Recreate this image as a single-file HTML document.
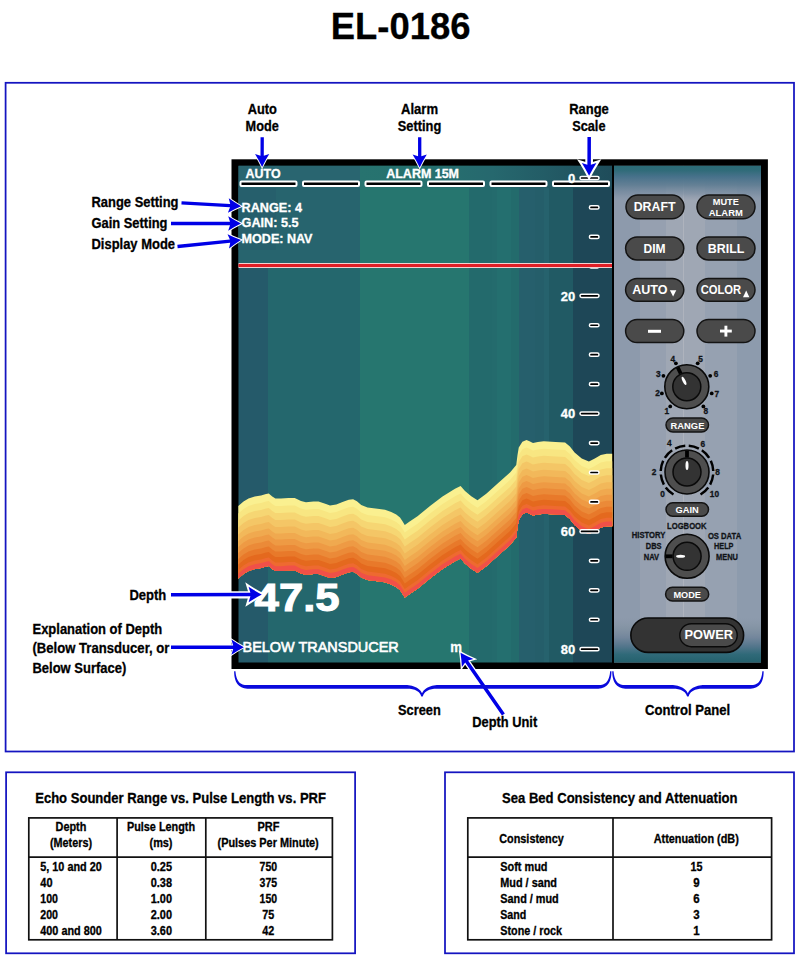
<!DOCTYPE html>
<html><head><meta charset="utf-8"><style>
html,body{margin:0;padding:0;background:#fff;overflow:hidden;width:800px;height:959px;}
svg{display:block;}
text{font-family:"Liberation Sans", sans-serif;}
</style></head><body>
<svg width="800" height="959" viewBox="0 0 800 959">
<defs><linearGradient id="scr" gradientUnits="userSpaceOnUse" x1="238.5" y1="0" x2="612" y2="0"><stop offset="0.00000" stop-color="#255A6A"/><stop offset="0.07898" stop-color="#255A6A"/><stop offset="0.07898" stop-color="#24676D"/><stop offset="0.32530" stop-color="#24676D"/><stop offset="0.32530" stop-color="#26766F"/><stop offset="0.61633" stop-color="#26766F"/><stop offset="0.61633" stop-color="#236A6C"/><stop offset="0.68005" stop-color="#236A6C"/><stop offset="0.68005" stop-color="#246B6D"/><stop offset="0.69130" stop-color="#246B6D"/><stop offset="0.69130" stop-color="#246F6F"/><stop offset="0.73012" stop-color="#246F6F"/><stop offset="0.73012" stop-color="#236B6C"/><stop offset="0.74967" stop-color="#236B6C"/><stop offset="0.74967" stop-color="#265F6C"/><stop offset="0.79384" stop-color="#265F6C"/><stop offset="0.79384" stop-color="#255E6A"/><stop offset="0.81901" stop-color="#255E6A"/><stop offset="0.81901" stop-color="#26626D"/><stop offset="0.82999" stop-color="#26626D"/><stop offset="0.82999" stop-color="#215A64"/><stop offset="0.89665" stop-color="#215A64"/><stop offset="0.89665" stop-color="#1E4757"/><stop offset="1.00000" stop-color="#1E4757"/></linearGradient><linearGradient id="hdr" gradientUnits="userSpaceOnUse" x1="238.5" y1="0" x2="612" y2="0">
<stop offset="0" stop-color="#296570"/><stop offset="0.325" stop-color="#296570"/><stop offset="0.326" stop-color="#27736F"/>
<stop offset="0.5" stop-color="#26716F"/><stop offset="0.68" stop-color="#26686E"/><stop offset="0.82" stop-color="#235C66"/><stop offset="1" stop-color="#1F4C5A"/></linearGradient><linearGradient id="pnl" gradientUnits="userSpaceOnUse" x1="614" y1="0" x2="761.5" y2="0"><stop offset="0.00000" stop-color="#8D9AAC"/><stop offset="0.17627" stop-color="#8D9AAC"/><stop offset="0.17627" stop-color="#96A0B0"/><stop offset="0.35254" stop-color="#96A0B0"/><stop offset="0.35254" stop-color="#9FA7B4"/><stop offset="0.46441" stop-color="#9FA7B4"/><stop offset="0.46441" stop-color="#AEB3BD"/><stop offset="0.47458" stop-color="#AEB3BD"/><stop offset="0.47458" stop-color="#9FA7B4"/><stop offset="0.61695" stop-color="#9FA7B4"/><stop offset="0.61695" stop-color="#96A1B1"/><stop offset="0.83390" stop-color="#96A1B1"/><stop offset="0.83390" stop-color="#8D9BAD"/><stop offset="1.00000" stop-color="#8D9BAD"/></linearGradient><linearGradient id="pnlTop" gradientUnits="userSpaceOnUse" x1="0" y1="165.8" x2="0" y2="201">
<stop offset="0" stop-color="#2B6B76" stop-opacity="1"/><stop offset="0.12" stop-color="#2F6B78" stop-opacity="1"/><stop offset="0.3" stop-color="#46718A" stop-opacity="1"/><stop offset="0.55" stop-color="#5E7C92" stop-opacity="0.9"/><stop offset="0.8" stop-color="#768A9F" stop-opacity="0.6"/><stop offset="1" stop-color="#8A98AB" stop-opacity="0"/></linearGradient>
<linearGradient id="pnlBot" gradientUnits="userSpaceOnUse" x1="0" y1="617" x2="0" y2="662.5">
<stop offset="0" stop-color="#8796A6" stop-opacity="0"/><stop offset="0.25" stop-color="#7F90A0" stop-opacity="0.7"/><stop offset="0.45" stop-color="#70849A" stop-opacity="0.9"/><stop offset="0.65" stop-color="#52758B" stop-opacity="1"/><stop offset="0.82" stop-color="#306A79" stop-opacity="1"/><stop offset="1" stop-color="#24606C" stop-opacity="1"/></linearGradient></defs>
<rect x="0" y="0" width="800" height="959" fill="#fff"/>
<text x="330.80" y="39" font-size="37.6" font-weight="bold" fill="#000" text-anchor="start" textLength="139.60" lengthAdjust="spacingAndGlyphs"  stroke="#000" stroke-width="0.3">EL-0186</text>
<rect x="5.6" y="82.8" width="788.4" height="668.7" fill="none" stroke="#1414C0" stroke-width="1.75"/>
<rect x="6.1" y="772.3" width="349" height="181" fill="none" stroke="#1414C0" stroke-width="1.75"/>
<rect x="445" y="772.3" width="349" height="181" fill="none" stroke="#1414C0" stroke-width="1.75"/>
<rect x="231.5" y="159.3" width="536.4" height="509.7" fill="#000"/>
<rect x="238.5" y="165.8" width="373.5" height="496.7" fill="url(#scr)"/>
<rect x="238.5" y="165.8" width="373.5" height="22.2" fill="url(#hdr)"/>
<rect x="238.5" y="188" width="121.5" height="75" fill="#27646E"/>
<rect x="238.5" y="188" width="37.5" height="62" fill="#265F6C"/>
<rect x="614" y="165.8" width="147" height="496.7" fill="url(#pnl)"/>
<rect x="614" y="165.8" width="147" height="35.2" fill="url(#pnlTop)"/>
<rect x="614" y="617" width="147" height="45.5" fill="url(#pnlBot)"/>
<polygon points="238.30,506.00 243.50,501.60 248.50,498.50 254.75,496.60 261.00,495.40 266.00,494.10 268.75,493.40 272.25,496.60 275.40,498.50 281.00,498.50 288.50,497.90 294.75,497.90 301.00,501.00 306.00,502.25 313.50,501.60 318.50,501.60 326.00,504.10 330.00,505.40 336.25,504.40 342.50,501.90 348.75,499.75 353.10,499.30 356.90,501.25 361.25,505.00 367.50,507.50 377.50,508.75 385.00,509.75 391.25,511.90 396.25,514.40 400.00,517.50 402.50,521.25 404.75,525.00 410.00,521.25 417.50,516.25 430.00,506.00 442.50,496.50 455.00,488.75 460.60,486.10 465.00,491.00 471.25,496.25 477.50,500.20 486.25,493.75 498.75,482.50 510.00,472.50 516.25,465.00 517.50,455.00 518.75,447.50 522.40,441.80 526.50,440.10 529.50,441.30 533.00,443.10 537.80,441.90 543.75,441.30 555.60,441.90 565.10,442.50 569.90,446.60 574.60,452.60 581.75,458.50 588.90,461.50 594.80,458.50 600.75,455.00 606.70,453.75 612.20,453.75 612.20,526.25 606.70,526.25 600.75,527.50 594.80,531.00 588.90,534.00 581.75,531.00 574.60,525.10 569.90,519.10 565.10,515.00 555.60,514.40 543.75,513.80 537.80,514.40 533.00,515.60 529.50,513.80 526.50,512.60 522.40,514.30 518.75,520.00 517.50,527.50 516.25,537.50 510.00,545.00 498.75,555.00 486.25,566.25 477.50,572.70 471.25,568.75 465.00,563.50 460.60,558.60 455.00,561.25 442.50,569.00 430.00,578.50 417.50,588.75 410.00,593.75 404.75,597.50 402.50,593.75 400.00,590.00 396.25,586.90 391.25,584.40 385.00,582.25 377.50,581.25 367.50,580.00 361.25,577.50 356.90,573.75 353.10,571.80 348.75,572.25 342.50,574.40 336.25,576.90 330.00,577.90 326.00,576.60 318.50,574.10 313.50,574.10 306.00,574.75 301.00,573.50 294.75,570.40 288.50,570.40 281.00,571.00 275.40,571.00 272.25,569.10 268.75,565.90 266.00,566.60 261.00,567.90 254.75,569.10 248.50,571.00 243.50,574.10 238.30,578.50" fill="#FAF090"/>
<polygon points="238.30,513.50 243.50,509.10 248.50,506.00 254.75,504.10 261.00,502.90 266.00,501.60 268.75,500.90 272.25,504.10 275.40,506.00 281.00,506.00 288.50,505.40 294.75,505.40 301.00,508.50 306.00,509.75 313.50,509.10 318.50,509.10 326.00,511.60 330.00,512.90 336.25,511.90 342.50,509.40 348.75,507.25 353.10,506.80 356.90,508.75 361.25,512.50 367.50,515.00 377.50,516.25 385.00,517.25 391.25,519.40 396.25,521.90 400.00,525.00 402.50,528.75 404.75,532.50 410.00,528.75 417.50,523.75 430.00,513.50 442.50,504.00 455.00,496.25 460.60,493.60 465.00,498.50 471.25,503.75 477.50,507.70 486.25,501.25 498.75,490.00 510.00,480.00 516.25,472.50 517.50,462.50 518.75,455.00 522.40,449.30 526.50,447.60 529.50,448.80 533.00,450.60 537.80,449.40 543.75,448.80 555.60,449.40 565.10,450.00 569.90,454.10 574.60,460.10 581.75,466.00 588.90,469.00 594.80,466.00 600.75,462.50 606.70,461.25 612.20,461.25 612.20,526.25 606.70,526.25 600.75,527.50 594.80,531.00 588.90,534.00 581.75,531.00 574.60,525.10 569.90,519.10 565.10,515.00 555.60,514.40 543.75,513.80 537.80,514.40 533.00,515.60 529.50,513.80 526.50,512.60 522.40,514.30 518.75,520.00 517.50,527.50 516.25,537.50 510.00,545.00 498.75,555.00 486.25,566.25 477.50,572.70 471.25,568.75 465.00,563.50 460.60,558.60 455.00,561.25 442.50,569.00 430.00,578.50 417.50,588.75 410.00,593.75 404.75,597.50 402.50,593.75 400.00,590.00 396.25,586.90 391.25,584.40 385.00,582.25 377.50,581.25 367.50,580.00 361.25,577.50 356.90,573.75 353.10,571.80 348.75,572.25 342.50,574.40 336.25,576.90 330.00,577.90 326.00,576.60 318.50,574.10 313.50,574.10 306.00,574.75 301.00,573.50 294.75,570.40 288.50,570.40 281.00,571.00 275.40,571.00 272.25,569.10 268.75,565.90 266.00,566.60 261.00,567.90 254.75,569.10 248.50,571.00 243.50,574.10 238.30,578.50" fill="#F8E682"/>
<polygon points="238.30,520.50 243.50,516.10 248.50,513.00 254.75,511.10 261.00,509.90 266.00,508.60 268.75,507.90 272.25,511.10 275.40,513.00 281.00,513.00 288.50,512.40 294.75,512.40 301.00,515.50 306.00,516.75 313.50,516.10 318.50,516.10 326.00,518.60 330.00,519.90 336.25,518.90 342.50,516.40 348.75,514.25 353.10,513.80 356.90,515.75 361.25,519.50 367.50,522.00 377.50,523.25 385.00,524.25 391.25,526.40 396.25,528.90 400.00,532.00 402.50,535.75 404.75,539.50 410.00,535.75 417.50,530.75 430.00,520.50 442.50,511.00 455.00,503.25 460.60,500.60 465.00,505.50 471.25,510.75 477.50,514.70 486.25,508.25 498.75,497.00 510.00,487.00 516.25,479.50 517.50,469.50 518.75,462.00 522.40,456.30 526.50,454.60 529.50,455.80 533.00,457.60 537.80,456.40 543.75,455.80 555.60,456.40 565.10,457.00 569.90,461.10 574.60,467.10 581.75,473.00 588.90,476.00 594.80,473.00 600.75,469.50 606.70,468.25 612.20,468.25 612.20,526.25 606.70,526.25 600.75,527.50 594.80,531.00 588.90,534.00 581.75,531.00 574.60,525.10 569.90,519.10 565.10,515.00 555.60,514.40 543.75,513.80 537.80,514.40 533.00,515.60 529.50,513.80 526.50,512.60 522.40,514.30 518.75,520.00 517.50,527.50 516.25,537.50 510.00,545.00 498.75,555.00 486.25,566.25 477.50,572.70 471.25,568.75 465.00,563.50 460.60,558.60 455.00,561.25 442.50,569.00 430.00,578.50 417.50,588.75 410.00,593.75 404.75,597.50 402.50,593.75 400.00,590.00 396.25,586.90 391.25,584.40 385.00,582.25 377.50,581.25 367.50,580.00 361.25,577.50 356.90,573.75 353.10,571.80 348.75,572.25 342.50,574.40 336.25,576.90 330.00,577.90 326.00,576.60 318.50,574.10 313.50,574.10 306.00,574.75 301.00,573.50 294.75,570.40 288.50,570.40 281.00,571.00 275.40,571.00 272.25,569.10 268.75,565.90 266.00,566.60 261.00,567.90 254.75,569.10 248.50,571.00 243.50,574.10 238.30,578.50" fill="#F6D673"/>
<polygon points="238.30,527.50 243.50,523.10 248.50,520.00 254.75,518.10 261.00,516.90 266.00,515.60 268.75,514.90 272.25,518.10 275.40,520.00 281.00,520.00 288.50,519.40 294.75,519.40 301.00,522.50 306.00,523.75 313.50,523.10 318.50,523.10 326.00,525.60 330.00,526.90 336.25,525.90 342.50,523.40 348.75,521.25 353.10,520.80 356.90,522.75 361.25,526.50 367.50,529.00 377.50,530.25 385.00,531.25 391.25,533.40 396.25,535.90 400.00,539.00 402.50,542.75 404.75,546.50 410.00,542.75 417.50,537.75 430.00,527.50 442.50,518.00 455.00,510.25 460.60,507.60 465.00,512.50 471.25,517.75 477.50,521.70 486.25,515.25 498.75,504.00 510.00,494.00 516.25,486.50 517.50,476.50 518.75,469.00 522.40,463.30 526.50,461.60 529.50,462.80 533.00,464.60 537.80,463.40 543.75,462.80 555.60,463.40 565.10,464.00 569.90,468.10 574.60,474.10 581.75,480.00 588.90,483.00 594.80,480.00 600.75,476.50 606.70,475.25 612.20,475.25 612.20,526.25 606.70,526.25 600.75,527.50 594.80,531.00 588.90,534.00 581.75,531.00 574.60,525.10 569.90,519.10 565.10,515.00 555.60,514.40 543.75,513.80 537.80,514.40 533.00,515.60 529.50,513.80 526.50,512.60 522.40,514.30 518.75,520.00 517.50,527.50 516.25,537.50 510.00,545.00 498.75,555.00 486.25,566.25 477.50,572.70 471.25,568.75 465.00,563.50 460.60,558.60 455.00,561.25 442.50,569.00 430.00,578.50 417.50,588.75 410.00,593.75 404.75,597.50 402.50,593.75 400.00,590.00 396.25,586.90 391.25,584.40 385.00,582.25 377.50,581.25 367.50,580.00 361.25,577.50 356.90,573.75 353.10,571.80 348.75,572.25 342.50,574.40 336.25,576.90 330.00,577.90 326.00,576.60 318.50,574.10 313.50,574.10 306.00,574.75 301.00,573.50 294.75,570.40 288.50,570.40 281.00,571.00 275.40,571.00 272.25,569.10 268.75,565.90 266.00,566.60 261.00,567.90 254.75,569.10 248.50,571.00 243.50,574.10 238.30,578.50" fill="#F4C666"/>
<polygon points="238.30,534.50 243.50,530.10 248.50,527.00 254.75,525.10 261.00,523.90 266.00,522.60 268.75,521.90 272.25,525.10 275.40,527.00 281.00,527.00 288.50,526.40 294.75,526.40 301.00,529.50 306.00,530.75 313.50,530.10 318.50,530.10 326.00,532.60 330.00,533.90 336.25,532.90 342.50,530.40 348.75,528.25 353.10,527.80 356.90,529.75 361.25,533.50 367.50,536.00 377.50,537.25 385.00,538.25 391.25,540.40 396.25,542.90 400.00,546.00 402.50,549.75 404.75,553.50 410.00,549.75 417.50,544.75 430.00,534.50 442.50,525.00 455.00,517.25 460.60,514.60 465.00,519.50 471.25,524.75 477.50,528.70 486.25,522.25 498.75,511.00 510.00,501.00 516.25,493.50 517.50,483.50 518.75,476.00 522.40,470.30 526.50,468.60 529.50,469.80 533.00,471.60 537.80,470.40 543.75,469.80 555.60,470.40 565.10,471.00 569.90,475.10 574.60,481.10 581.75,487.00 588.90,490.00 594.80,487.00 600.75,483.50 606.70,482.25 612.20,482.25 612.20,526.25 606.70,526.25 600.75,527.50 594.80,531.00 588.90,534.00 581.75,531.00 574.60,525.10 569.90,519.10 565.10,515.00 555.60,514.40 543.75,513.80 537.80,514.40 533.00,515.60 529.50,513.80 526.50,512.60 522.40,514.30 518.75,520.00 517.50,527.50 516.25,537.50 510.00,545.00 498.75,555.00 486.25,566.25 477.50,572.70 471.25,568.75 465.00,563.50 460.60,558.60 455.00,561.25 442.50,569.00 430.00,578.50 417.50,588.75 410.00,593.75 404.75,597.50 402.50,593.75 400.00,590.00 396.25,586.90 391.25,584.40 385.00,582.25 377.50,581.25 367.50,580.00 361.25,577.50 356.90,573.75 353.10,571.80 348.75,572.25 342.50,574.40 336.25,576.90 330.00,577.90 326.00,576.60 318.50,574.10 313.50,574.10 306.00,574.75 301.00,573.50 294.75,570.40 288.50,570.40 281.00,571.00 275.40,571.00 272.25,569.10 268.75,565.90 266.00,566.60 261.00,567.90 254.75,569.10 248.50,571.00 243.50,574.10 238.30,578.50" fill="#F2B85A"/>
<polygon points="238.30,541.00 243.50,536.60 248.50,533.50 254.75,531.60 261.00,530.40 266.00,529.10 268.75,528.40 272.25,531.60 275.40,533.50 281.00,533.50 288.50,532.90 294.75,532.90 301.00,536.00 306.00,537.25 313.50,536.60 318.50,536.60 326.00,539.10 330.00,540.40 336.25,539.40 342.50,536.90 348.75,534.75 353.10,534.30 356.90,536.25 361.25,540.00 367.50,542.50 377.50,543.75 385.00,544.75 391.25,546.90 396.25,549.40 400.00,552.50 402.50,556.25 404.75,560.00 410.00,556.25 417.50,551.25 430.00,541.00 442.50,531.50 455.00,523.75 460.60,521.10 465.00,526.00 471.25,531.25 477.50,535.20 486.25,528.75 498.75,517.50 510.00,507.50 516.25,500.00 517.50,490.00 518.75,482.50 522.40,476.80 526.50,475.10 529.50,476.30 533.00,478.10 537.80,476.90 543.75,476.30 555.60,476.90 565.10,477.50 569.90,481.60 574.60,487.60 581.75,493.50 588.90,496.50 594.80,493.50 600.75,490.00 606.70,488.75 612.20,488.75 612.20,526.25 606.70,526.25 600.75,527.50 594.80,531.00 588.90,534.00 581.75,531.00 574.60,525.10 569.90,519.10 565.10,515.00 555.60,514.40 543.75,513.80 537.80,514.40 533.00,515.60 529.50,513.80 526.50,512.60 522.40,514.30 518.75,520.00 517.50,527.50 516.25,537.50 510.00,545.00 498.75,555.00 486.25,566.25 477.50,572.70 471.25,568.75 465.00,563.50 460.60,558.60 455.00,561.25 442.50,569.00 430.00,578.50 417.50,588.75 410.00,593.75 404.75,597.50 402.50,593.75 400.00,590.00 396.25,586.90 391.25,584.40 385.00,582.25 377.50,581.25 367.50,580.00 361.25,577.50 356.90,573.75 353.10,571.80 348.75,572.25 342.50,574.40 336.25,576.90 330.00,577.90 326.00,576.60 318.50,574.10 313.50,574.10 306.00,574.75 301.00,573.50 294.75,570.40 288.50,570.40 281.00,571.00 275.40,571.00 272.25,569.10 268.75,565.90 266.00,566.60 261.00,567.90 254.75,569.10 248.50,571.00 243.50,574.10 238.30,578.50" fill="#F0A94F"/>
<polygon points="238.30,547.00 243.50,542.60 248.50,539.50 254.75,537.60 261.00,536.40 266.00,535.10 268.75,534.40 272.25,537.60 275.40,539.50 281.00,539.50 288.50,538.90 294.75,538.90 301.00,542.00 306.00,543.25 313.50,542.60 318.50,542.60 326.00,545.10 330.00,546.40 336.25,545.40 342.50,542.90 348.75,540.75 353.10,540.30 356.90,542.25 361.25,546.00 367.50,548.50 377.50,549.75 385.00,550.75 391.25,552.90 396.25,555.40 400.00,558.50 402.50,562.25 404.75,566.00 410.00,562.25 417.50,557.25 430.00,547.00 442.50,537.50 455.00,529.75 460.60,527.10 465.00,532.00 471.25,537.25 477.50,541.20 486.25,534.75 498.75,523.50 510.00,513.50 516.25,506.00 517.50,496.00 518.75,488.50 522.40,482.80 526.50,481.10 529.50,482.30 533.00,484.10 537.80,482.90 543.75,482.30 555.60,482.90 565.10,483.50 569.90,487.60 574.60,493.60 581.75,499.50 588.90,502.50 594.80,499.50 600.75,496.00 606.70,494.75 612.20,494.75 612.20,526.25 606.70,526.25 600.75,527.50 594.80,531.00 588.90,534.00 581.75,531.00 574.60,525.10 569.90,519.10 565.10,515.00 555.60,514.40 543.75,513.80 537.80,514.40 533.00,515.60 529.50,513.80 526.50,512.60 522.40,514.30 518.75,520.00 517.50,527.50 516.25,537.50 510.00,545.00 498.75,555.00 486.25,566.25 477.50,572.70 471.25,568.75 465.00,563.50 460.60,558.60 455.00,561.25 442.50,569.00 430.00,578.50 417.50,588.75 410.00,593.75 404.75,597.50 402.50,593.75 400.00,590.00 396.25,586.90 391.25,584.40 385.00,582.25 377.50,581.25 367.50,580.00 361.25,577.50 356.90,573.75 353.10,571.80 348.75,572.25 342.50,574.40 336.25,576.90 330.00,577.90 326.00,576.60 318.50,574.10 313.50,574.10 306.00,574.75 301.00,573.50 294.75,570.40 288.50,570.40 281.00,571.00 275.40,571.00 272.25,569.10 268.75,565.90 266.00,566.60 261.00,567.90 254.75,569.10 248.50,571.00 243.50,574.10 238.30,578.50" fill="#EE9A44"/>
<polygon points="238.30,553.00 243.50,548.60 248.50,545.50 254.75,543.60 261.00,542.40 266.00,541.10 268.75,540.40 272.25,543.60 275.40,545.50 281.00,545.50 288.50,544.90 294.75,544.90 301.00,548.00 306.00,549.25 313.50,548.60 318.50,548.60 326.00,551.10 330.00,552.40 336.25,551.40 342.50,548.90 348.75,546.75 353.10,546.30 356.90,548.25 361.25,552.00 367.50,554.50 377.50,555.75 385.00,556.75 391.25,558.90 396.25,561.40 400.00,564.50 402.50,568.25 404.75,572.00 410.00,568.25 417.50,563.25 430.00,553.00 442.50,543.50 455.00,535.75 460.60,533.10 465.00,538.00 471.25,543.25 477.50,547.20 486.25,540.75 498.75,529.50 510.00,519.50 516.25,512.00 517.50,502.00 518.75,494.50 522.40,488.80 526.50,487.10 529.50,488.30 533.00,490.10 537.80,488.90 543.75,488.30 555.60,488.90 565.10,489.50 569.90,493.60 574.60,499.60 581.75,505.50 588.90,508.50 594.80,505.50 600.75,502.00 606.70,500.75 612.20,500.75 612.20,526.25 606.70,526.25 600.75,527.50 594.80,531.00 588.90,534.00 581.75,531.00 574.60,525.10 569.90,519.10 565.10,515.00 555.60,514.40 543.75,513.80 537.80,514.40 533.00,515.60 529.50,513.80 526.50,512.60 522.40,514.30 518.75,520.00 517.50,527.50 516.25,537.50 510.00,545.00 498.75,555.00 486.25,566.25 477.50,572.70 471.25,568.75 465.00,563.50 460.60,558.60 455.00,561.25 442.50,569.00 430.00,578.50 417.50,588.75 410.00,593.75 404.75,597.50 402.50,593.75 400.00,590.00 396.25,586.90 391.25,584.40 385.00,582.25 377.50,581.25 367.50,580.00 361.25,577.50 356.90,573.75 353.10,571.80 348.75,572.25 342.50,574.40 336.25,576.90 330.00,577.90 326.00,576.60 318.50,574.10 313.50,574.10 306.00,574.75 301.00,573.50 294.75,570.40 288.50,570.40 281.00,571.00 275.40,571.00 272.25,569.10 268.75,565.90 266.00,566.60 261.00,567.90 254.75,569.10 248.50,571.00 243.50,574.10 238.30,578.50" fill="#EB8A38"/>
<polygon points="238.30,559.00 243.50,554.60 248.50,551.50 254.75,549.60 261.00,548.40 266.00,547.10 268.75,546.40 272.25,549.60 275.40,551.50 281.00,551.50 288.50,550.90 294.75,550.90 301.00,554.00 306.00,555.25 313.50,554.60 318.50,554.60 326.00,557.10 330.00,558.40 336.25,557.40 342.50,554.90 348.75,552.75 353.10,552.30 356.90,554.25 361.25,558.00 367.50,560.50 377.50,561.75 385.00,562.75 391.25,564.90 396.25,567.40 400.00,570.50 402.50,574.25 404.75,578.00 410.00,574.25 417.50,569.25 430.00,559.00 442.50,549.50 455.00,541.75 460.60,539.10 465.00,544.00 471.25,549.25 477.50,553.20 486.25,546.75 498.75,535.50 510.00,525.50 516.25,518.00 517.50,508.00 518.75,500.50 522.40,494.80 526.50,493.10 529.50,494.30 533.00,496.10 537.80,494.90 543.75,494.30 555.60,494.90 565.10,495.50 569.90,499.60 574.60,505.60 581.75,511.50 588.90,514.50 594.80,511.50 600.75,508.00 606.70,506.75 612.20,506.75 612.20,526.25 606.70,526.25 600.75,527.50 594.80,531.00 588.90,534.00 581.75,531.00 574.60,525.10 569.90,519.10 565.10,515.00 555.60,514.40 543.75,513.80 537.80,514.40 533.00,515.60 529.50,513.80 526.50,512.60 522.40,514.30 518.75,520.00 517.50,527.50 516.25,537.50 510.00,545.00 498.75,555.00 486.25,566.25 477.50,572.70 471.25,568.75 465.00,563.50 460.60,558.60 455.00,561.25 442.50,569.00 430.00,578.50 417.50,588.75 410.00,593.75 404.75,597.50 402.50,593.75 400.00,590.00 396.25,586.90 391.25,584.40 385.00,582.25 377.50,581.25 367.50,580.00 361.25,577.50 356.90,573.75 353.10,571.80 348.75,572.25 342.50,574.40 336.25,576.90 330.00,577.90 326.00,576.60 318.50,574.10 313.50,574.10 306.00,574.75 301.00,573.50 294.75,570.40 288.50,570.40 281.00,571.00 275.40,571.00 272.25,569.10 268.75,565.90 266.00,566.60 261.00,567.90 254.75,569.10 248.50,571.00 243.50,574.10 238.30,578.50" fill="#E8792A"/>
<polygon points="238.30,564.50 243.50,560.10 248.50,557.00 254.75,555.10 261.00,553.90 266.00,552.60 268.75,551.90 272.25,555.10 275.40,557.00 281.00,557.00 288.50,556.40 294.75,556.40 301.00,559.50 306.00,560.75 313.50,560.10 318.50,560.10 326.00,562.60 330.00,563.90 336.25,562.90 342.50,560.40 348.75,558.25 353.10,557.80 356.90,559.75 361.25,563.50 367.50,566.00 377.50,567.25 385.00,568.25 391.25,570.40 396.25,572.90 400.00,576.00 402.50,579.75 404.75,583.50 410.00,579.75 417.50,574.75 430.00,564.50 442.50,555.00 455.00,547.25 460.60,544.60 465.00,549.50 471.25,554.75 477.50,558.70 486.25,552.25 498.75,541.00 510.00,531.00 516.25,523.50 517.50,513.50 518.75,506.00 522.40,500.30 526.50,498.60 529.50,499.80 533.00,501.60 537.80,500.40 543.75,499.80 555.60,500.40 565.10,501.00 569.90,505.10 574.60,511.10 581.75,517.00 588.90,520.00 594.80,517.00 600.75,513.50 606.70,512.25 612.20,512.25 612.20,526.25 606.70,526.25 600.75,527.50 594.80,531.00 588.90,534.00 581.75,531.00 574.60,525.10 569.90,519.10 565.10,515.00 555.60,514.40 543.75,513.80 537.80,514.40 533.00,515.60 529.50,513.80 526.50,512.60 522.40,514.30 518.75,520.00 517.50,527.50 516.25,537.50 510.00,545.00 498.75,555.00 486.25,566.25 477.50,572.70 471.25,568.75 465.00,563.50 460.60,558.60 455.00,561.25 442.50,569.00 430.00,578.50 417.50,588.75 410.00,593.75 404.75,597.50 402.50,593.75 400.00,590.00 396.25,586.90 391.25,584.40 385.00,582.25 377.50,581.25 367.50,580.00 361.25,577.50 356.90,573.75 353.10,571.80 348.75,572.25 342.50,574.40 336.25,576.90 330.00,577.90 326.00,576.60 318.50,574.10 313.50,574.10 306.00,574.75 301.00,573.50 294.75,570.40 288.50,570.40 281.00,571.00 275.40,571.00 272.25,569.10 268.75,565.90 266.00,566.60 261.00,567.90 254.75,569.10 248.50,571.00 243.50,574.10 238.30,578.50" fill="#E4691E"/>
<polygon points="238.30,570.00 243.50,565.60 248.50,562.50 254.75,560.60 261.00,559.40 266.00,558.10 268.75,557.40 272.25,560.60 275.40,562.50 281.00,562.50 288.50,561.90 294.75,561.90 301.00,565.00 306.00,566.25 313.50,565.60 318.50,565.60 326.00,568.10 330.00,569.40 336.25,568.40 342.50,565.90 348.75,563.75 353.10,563.30 356.90,565.25 361.25,569.00 367.50,571.50 377.50,572.75 385.00,573.75 391.25,575.90 396.25,578.40 400.00,581.50 402.50,585.25 404.75,589.00 410.00,585.25 417.50,580.25 430.00,570.00 442.50,560.50 455.00,552.75 460.60,550.10 465.00,555.00 471.25,560.25 477.50,564.20 486.25,557.75 498.75,546.50 510.00,536.50 516.25,529.00 517.50,519.00 518.75,511.50 522.40,505.80 526.50,504.10 529.50,505.30 533.00,507.10 537.80,505.90 543.75,505.30 555.60,505.90 565.10,506.50 569.90,510.60 574.60,516.60 581.75,522.50 588.90,525.50 594.80,522.50 600.75,519.00 606.70,517.75 612.20,517.75 612.20,526.25 606.70,526.25 600.75,527.50 594.80,531.00 588.90,534.00 581.75,531.00 574.60,525.10 569.90,519.10 565.10,515.00 555.60,514.40 543.75,513.80 537.80,514.40 533.00,515.60 529.50,513.80 526.50,512.60 522.40,514.30 518.75,520.00 517.50,527.50 516.25,537.50 510.00,545.00 498.75,555.00 486.25,566.25 477.50,572.70 471.25,568.75 465.00,563.50 460.60,558.60 455.00,561.25 442.50,569.00 430.00,578.50 417.50,588.75 410.00,593.75 404.75,597.50 402.50,593.75 400.00,590.00 396.25,586.90 391.25,584.40 385.00,582.25 377.50,581.25 367.50,580.00 361.25,577.50 356.90,573.75 353.10,571.80 348.75,572.25 342.50,574.40 336.25,576.90 330.00,577.90 326.00,576.60 318.50,574.10 313.50,574.10 306.00,574.75 301.00,573.50 294.75,570.40 288.50,570.40 281.00,571.00 275.40,571.00 272.25,569.10 268.75,565.90 266.00,566.60 261.00,567.90 254.75,569.10 248.50,571.00 243.50,574.10 238.30,578.50" fill="#EE6A30"/>
<polygon points="238.30,573.70 243.50,569.30 248.50,566.20 254.75,564.30 261.00,563.10 266.00,561.80 268.75,561.10 272.25,564.30 275.40,566.20 281.00,566.20 288.50,565.60 294.75,565.60 301.00,568.70 306.00,569.95 313.50,569.30 318.50,569.30 326.00,571.80 330.00,573.10 336.25,572.10 342.50,569.60 348.75,567.45 353.10,567.00 356.90,568.95 361.25,572.70 367.50,575.20 377.50,576.45 385.00,577.45 391.25,579.60 396.25,582.10 400.00,585.20 402.50,588.95 404.75,592.70 410.00,588.95 417.50,583.95 430.00,573.70 442.50,564.20 455.00,556.45 460.60,553.80 465.00,558.70 471.25,563.95 477.50,567.90 486.25,561.45 498.75,550.20 510.00,540.20 516.25,532.70 517.50,522.70 518.75,515.20 522.40,509.50 526.50,507.80 529.50,509.00 533.00,510.80 537.80,509.60 543.75,509.00 555.60,509.60 565.10,510.20 569.90,514.30 574.60,520.30 581.75,526.20 588.90,529.20 594.80,526.20 600.75,522.70 606.70,521.45 612.20,521.45 612.20,526.25 606.70,526.25 600.75,527.50 594.80,531.00 588.90,534.00 581.75,531.00 574.60,525.10 569.90,519.10 565.10,515.00 555.60,514.40 543.75,513.80 537.80,514.40 533.00,515.60 529.50,513.80 526.50,512.60 522.40,514.30 518.75,520.00 517.50,527.50 516.25,537.50 510.00,545.00 498.75,555.00 486.25,566.25 477.50,572.70 471.25,568.75 465.00,563.50 460.60,558.60 455.00,561.25 442.50,569.00 430.00,578.50 417.50,588.75 410.00,593.75 404.75,597.50 402.50,593.75 400.00,590.00 396.25,586.90 391.25,584.40 385.00,582.25 377.50,581.25 367.50,580.00 361.25,577.50 356.90,573.75 353.10,571.80 348.75,572.25 342.50,574.40 336.25,576.90 330.00,577.90 326.00,576.60 318.50,574.10 313.50,574.10 306.00,574.75 301.00,573.50 294.75,570.40 288.50,570.40 281.00,571.00 275.40,571.00 272.25,569.10 268.75,565.90 266.00,566.60 261.00,567.90 254.75,569.10 248.50,571.00 243.50,574.10 238.30,578.50" fill="#F05048"/>
<rect x="240.50" y="181.6" width="56" height="4.3" rx="1" fill="#000" stroke="#FFFFFF" stroke-width="2"/>
<rect x="303.00" y="181.6" width="56" height="4.3" rx="1" fill="#000" stroke="#FFFFFF" stroke-width="2"/>
<rect x="365.50" y="181.6" width="56" height="4.3" rx="1" fill="#000" stroke="#FFFFFF" stroke-width="2"/>
<rect x="428.00" y="181.6" width="56" height="4.3" rx="1" fill="#000" stroke="#FFFFFF" stroke-width="2"/>
<rect x="490.50" y="181.6" width="56" height="4.3" rx="1" fill="#000" stroke="#FFFFFF" stroke-width="2"/>
<rect x="553.00" y="181.6" width="56" height="4.3" rx="1" fill="#000" stroke="#FFFFFF" stroke-width="2"/>
<rect x="580" y="176.40" width="19.00" height="3.2" rx="1.6" fill="#000" stroke="#FFFFFF" stroke-width="1.5"/>
<rect x="589.4" y="205.85" width="9.60" height="3.2" rx="1.6" fill="#000" stroke="#FFFFFF" stroke-width="1.5"/>
<rect x="589.4" y="235.30" width="9.60" height="3.2" rx="1.6" fill="#000" stroke="#FFFFFF" stroke-width="1.5"/>
<rect x="589.4" y="264.75" width="9.60" height="3.2" rx="1.6" fill="#000" stroke="#FFFFFF" stroke-width="1.5"/>
<rect x="580" y="294.20" width="19.00" height="3.2" rx="1.6" fill="#000" stroke="#FFFFFF" stroke-width="1.5"/>
<rect x="589.4" y="323.65" width="9.60" height="3.2" rx="1.6" fill="#000" stroke="#FFFFFF" stroke-width="1.5"/>
<rect x="589.4" y="353.10" width="9.60" height="3.2" rx="1.6" fill="#000" stroke="#FFFFFF" stroke-width="1.5"/>
<rect x="589.4" y="382.55" width="9.60" height="3.2" rx="1.6" fill="#000" stroke="#FFFFFF" stroke-width="1.5"/>
<rect x="580" y="412.00" width="19.00" height="3.2" rx="1.6" fill="#000" stroke="#FFFFFF" stroke-width="1.5"/>
<rect x="589.4" y="441.45" width="9.60" height="3.2" rx="1.6" fill="#000" stroke="#FFFFFF" stroke-width="1.5"/>
<rect x="589.4" y="470.90" width="9.60" height="3.2" rx="1.6" fill="#000" stroke="#FFFFFF" stroke-width="1.5"/>
<rect x="589.4" y="500.35" width="9.60" height="3.2" rx="1.6" fill="#000" stroke="#FFFFFF" stroke-width="1.5"/>
<rect x="580" y="529.80" width="19.00" height="3.2" rx="1.6" fill="#000" stroke="#FFFFFF" stroke-width="1.5"/>
<rect x="589.4" y="559.25" width="9.60" height="3.2" rx="1.6" fill="#000" stroke="#FFFFFF" stroke-width="1.5"/>
<rect x="589.4" y="588.70" width="9.60" height="3.2" rx="1.6" fill="#000" stroke="#FFFFFF" stroke-width="1.5"/>
<rect x="589.4" y="618.15" width="9.60" height="3.2" rx="1.6" fill="#000" stroke="#FFFFFF" stroke-width="1.5"/>
<rect x="580" y="647.60" width="19.00" height="3.2" rx="1.6" fill="#000" stroke="#FFFFFF" stroke-width="1.5"/>
<rect x="238.5" y="263" width="373.5" height="5" fill="#F4D0D0"/>
<rect x="238.5" y="264" width="373.5" height="3" fill="#E01E26"/>
<text x="575.3" y="182.80" font-size="13" font-weight="bold" fill="#FFFFFF" text-anchor="end"  stroke="#FFFFFF" stroke-width="0.3">0</text>
<text x="575.3" y="300.60" font-size="13" font-weight="bold" fill="#FFFFFF" text-anchor="end"  stroke="#FFFFFF" stroke-width="0.3">20</text>
<text x="575.3" y="418.40" font-size="13" font-weight="bold" fill="#FFFFFF" text-anchor="end"  stroke="#FFFFFF" stroke-width="0.3">40</text>
<text x="575.3" y="536.20" font-size="13" font-weight="bold" fill="#FFFFFF" text-anchor="end"  stroke="#FFFFFF" stroke-width="0.3">60</text>
<text x="575.3" y="654.00" font-size="13" font-weight="bold" fill="#FFFFFF" text-anchor="end"  stroke="#FFFFFF" stroke-width="0.3">80</text>
<text x="245.60" y="177.75" font-size="12.2" font-weight="bold" fill="#FFFFFF" text-anchor="start" textLength="35.00" lengthAdjust="spacingAndGlyphs"  stroke="#FFFFFF" stroke-width="0.3">AUTO</text>
<text x="386.25" y="177.75" font-size="12.2" font-weight="bold" fill="#FFFFFF" text-anchor="start" textLength="72.75" lengthAdjust="spacingAndGlyphs"  stroke="#FFFFFF" stroke-width="0.3">ALARM 15M</text>
<text x="241.60" y="211.9" font-size="12.2" font-weight="bold" fill="#FFFFFF" text-anchor="start" textLength="60.40" lengthAdjust="spacingAndGlyphs"  stroke="#FFFFFF" stroke-width="0.3">RANGE: 4</text>
<text x="241.60" y="227.25" font-size="12.2" font-weight="bold" fill="#FFFFFF" text-anchor="start" textLength="56.90" lengthAdjust="spacingAndGlyphs"  stroke="#FFFFFF" stroke-width="0.3">GAIN: 5.5</text>
<text x="241.60" y="242.9" font-size="12.2" font-weight="bold" fill="#FFFFFF" text-anchor="start" textLength="70.90" lengthAdjust="spacingAndGlyphs"  stroke="#FFFFFF" stroke-width="0.3">MODE: NAV</text>
<text x="254.6" y="611.25" font-size="39.5" font-weight="bold" fill="#FFFFFF" text-anchor="start" textLength="85" lengthAdjust="spacingAndGlyphs" stroke="#fff" stroke-width="1.1">47.5</text>
<text x="242.50" y="652" font-size="14.5" font-weight="normal" fill="#FFFFFF" text-anchor="start" textLength="156.25" lengthAdjust="spacingAndGlyphs"  stroke="#FFFFFF" stroke-width="0.6">BELOW TRANSDUCER</text>
<text x="450.30" y="651.6" font-size="14" font-weight="bold" fill="#FFFFFF" text-anchor="start" textLength="11.70" lengthAdjust="spacingAndGlyphs"  stroke="#FFFFFF" stroke-width="0.3">m</text>
<rect x="626" y="195" width="58.00" height="23.70" rx="11.85" fill="#4A4A4A" stroke="#141414" stroke-width="1.5"/>
<rect x="697" y="195" width="58.00" height="23.70" rx="11.85" fill="#4A4A4A" stroke="#141414" stroke-width="1.5"/>
<rect x="625.6" y="237" width="58.20" height="23.00" rx="11.50" fill="#4A4A4A" stroke="#141414" stroke-width="1.5"/>
<rect x="697" y="237" width="58.00" height="23.00" rx="11.50" fill="#4A4A4A" stroke="#141414" stroke-width="1.5"/>
<rect x="625.6" y="278.4" width="58.20" height="22.90" rx="11.45" fill="#4A4A4A" stroke="#141414" stroke-width="1.5"/>
<rect x="697" y="278.4" width="58.00" height="22.90" rx="11.45" fill="#4A4A4A" stroke="#141414" stroke-width="1.5"/>
<rect x="625.6" y="319.6" width="58.20" height="23.00" rx="11.50" fill="#4A4A4A" stroke="#141414" stroke-width="1.5"/>
<rect x="697" y="319.6" width="58.00" height="23.00" rx="11.50" fill="#4A4A4A" stroke="#141414" stroke-width="1.5"/>
<text x="633.70" y="211.4" font-size="13" font-weight="bold" fill="#FFFFFF" text-anchor="start" textLength="41.90" lengthAdjust="spacingAndGlyphs" >DRAFT</text>
<text x="712.80" y="204.5" font-size="9.8" font-weight="bold" fill="#FFFFFF" text-anchor="start" textLength="26.10" lengthAdjust="spacingAndGlyphs" >MUTE</text>
<text x="708.80" y="216" font-size="9.8" font-weight="bold" fill="#FFFFFF" text-anchor="start" textLength="34.00" lengthAdjust="spacingAndGlyphs" >ALARM</text>
<text x="643.60" y="252.5" font-size="12.4" font-weight="bold" fill="#FFFFFF" text-anchor="start" textLength="22.00" lengthAdjust="spacingAndGlyphs" >DIM</text>
<text x="707.80" y="252.5" font-size="12.4" font-weight="bold" fill="#FFFFFF" text-anchor="start" textLength="36.60" lengthAdjust="spacingAndGlyphs" >BRILL</text>
<text x="632.20" y="293.8" font-size="12.4" font-weight="bold" fill="#FFFFFF" text-anchor="start" textLength="35.30" lengthAdjust="spacingAndGlyphs" >AUTO</text>
<text x="700.70" y="293.8" font-size="12.4" font-weight="bold" fill="#FFFFFF" text-anchor="start" textLength="40.50" lengthAdjust="spacingAndGlyphs" >COLOR</text>
<polygon points="669.9,290.3 676.3,290.3 673.1,296.6" fill="#FFFFFF"/>
<polygon points="743,297.2 749.4,297.2 746.2,290.6" fill="#FFFFFF"/>
<rect x="648" y="329.8" width="13" height="3" fill="#FFFFFF"/>
<rect x="720" y="329.6" width="11.8" height="2.9" fill="#FFFFFF"/>
<rect x="724.45" y="325.7" width="2.9" height="10.9" fill="#FFFFFF"/>
<circle cx="686.8" cy="386.7" r="22" fill="#4E4E4E" stroke="#0A0A0A" stroke-width="1.6"/>
<circle cx="686.8" cy="386.7" r="14" fill="#333333" stroke="#0A0A0A" stroke-width="1.5"/>
<line x1="680.67" y1="373.56" x2="677.71" y2="367.21" stroke="#000" stroke-width="3.8"/>
<ellipse cx="684.05" cy="380.81" rx="1.5" ry="4.5" fill="#fff" transform="rotate(-25 684.05 380.81)"/>
<circle cx="670.22" cy="406.46" r="1.9" fill="#000"/>
<circle cx="661.88" cy="393.38" r="1.9" fill="#000"/>
<circle cx="663.42" cy="375.80" r="1.9" fill="#000"/>
<circle cx="675.90" cy="363.32" r="1.9" fill="#000"/>
<circle cx="697.70" cy="363.32" r="1.9" fill="#000"/>
<circle cx="710.18" cy="375.80" r="1.9" fill="#000"/>
<circle cx="711.72" cy="393.38" r="1.9" fill="#000"/>
<circle cx="703.38" cy="406.46" r="1.9" fill="#000"/>
<text x="666.7" y="413.80" font-size="8.3" font-weight="bold" fill="#111418" text-anchor="middle"  stroke="#111418" stroke-width="0.3">1</text>
<text x="657.5" y="396.00" font-size="8.3" font-weight="bold" fill="#111418" text-anchor="middle"  stroke="#111418" stroke-width="0.3">2</text>
<text x="658.25" y="376.80" font-size="8.3" font-weight="bold" fill="#111418" text-anchor="middle"  stroke="#111418" stroke-width="0.3">3</text>
<text x="672.7" y="362.30" font-size="8.3" font-weight="bold" fill="#111418" text-anchor="middle"  stroke="#111418" stroke-width="0.3">4</text>
<text x="700.6" y="362.30" font-size="8.3" font-weight="bold" fill="#111418" text-anchor="middle"  stroke="#111418" stroke-width="0.3">5</text>
<text x="716.1" y="376.80" font-size="8.3" font-weight="bold" fill="#111418" text-anchor="middle"  stroke="#111418" stroke-width="0.3">6</text>
<text x="716.7" y="396.90" font-size="8.3" font-weight="bold" fill="#111418" text-anchor="middle"  stroke="#111418" stroke-width="0.3">7</text>
<text x="705.8" y="413.60" font-size="8.3" font-weight="bold" fill="#111418" text-anchor="middle"  stroke="#111418" stroke-width="0.3">8</text>
<rect x="666" y="418" width="42.50" height="14.00" rx="7.00" fill="#4A4A4A" stroke="#141414" stroke-width="1.5"/>
<text x="670.60" y="428.5" font-size="9.3" font-weight="bold" fill="#FFFFFF" text-anchor="start" textLength="33.80" lengthAdjust="spacingAndGlyphs" >RANGE</text>
<circle cx="687" cy="472" r="22" fill="#4E4E4E" stroke="#0A0A0A" stroke-width="1.6"/>
<circle cx="687" cy="472" r="14" fill="#333333" stroke="#0A0A0A" stroke-width="1.5"/>
<line x1="687.00" y1="457.50" x2="687.00" y2="450.50" stroke="#000" stroke-width="3.8"/>
<ellipse cx="687.00" cy="465.50" rx="1.5" ry="4.5" fill="#fff" transform="rotate(0 687.00 465.50)"/>
<path d="M688.73,445.76 A26.3,26.3 0 0 1 698.85,448.52" fill="none" stroke="#000" stroke-width="2.5"/>
<path d="M685.27,445.76 A26.3,26.3 0 0 0 675.15,448.52" fill="none" stroke="#000" stroke-width="2.5"/>
<path d="M701.84,450.28 A26.3,26.3 0 0 1 709.14,457.81" fill="none" stroke="#000" stroke-width="2.5"/>
<path d="M672.16,450.28 A26.3,26.3 0 0 0 664.86,457.81" fill="none" stroke="#000" stroke-width="2.5"/>
<path d="M710.82,460.84 A26.3,26.3 0 0 1 713.28,471.04" fill="none" stroke="#000" stroke-width="2.5"/>
<path d="M663.18,460.84 A26.3,26.3 0 0 0 660.72,471.04" fill="none" stroke="#000" stroke-width="2.5"/>
<path d="M713.18,474.50 A26.3,26.3 0 0 1 710.12,484.53" fill="none" stroke="#000" stroke-width="2.5"/>
<path d="M660.82,474.50 A26.3,26.3 0 0 0 663.88,484.53" fill="none" stroke="#000" stroke-width="2.5"/>
<path d="M708.27,487.47 A26.3,26.3 0 0 1 700.54,494.55" fill="none" stroke="#000" stroke-width="2.5"/>
<path d="M665.73,487.47 A26.3,26.3 0 0 0 673.46,494.55" fill="none" stroke="#000" stroke-width="2.5"/>
<text x="662.5" y="497.30" font-size="8.3" font-weight="bold" fill="#111418" text-anchor="middle"  stroke="#111418" stroke-width="0.3">0</text>
<text x="654" y="474.80" font-size="8.3" font-weight="bold" fill="#111418" text-anchor="middle"  stroke="#111418" stroke-width="0.3">2</text>
<text x="669.4" y="446.00" font-size="8.3" font-weight="bold" fill="#111418" text-anchor="middle"  stroke="#111418" stroke-width="0.3">4</text>
<text x="702.75" y="446.65" font-size="8.3" font-weight="bold" fill="#111418" text-anchor="middle"  stroke="#111418" stroke-width="0.3">6</text>
<text x="717.5" y="474.80" font-size="8.3" font-weight="bold" fill="#111418" text-anchor="middle"  stroke="#111418" stroke-width="0.3">8</text>
<text x="714.4" y="496.65" font-size="8.3" font-weight="bold" fill="#111418" text-anchor="middle"  stroke="#111418" stroke-width="0.3">10</text>
<rect x="666" y="502.75" width="42.50" height="13.50" rx="6.75" fill="#4A4A4A" stroke="#141414" stroke-width="1.5"/>
<text x="675.60" y="513.1" font-size="9.3" font-weight="bold" fill="#FFFFFF" text-anchor="start" textLength="23.15" lengthAdjust="spacingAndGlyphs" >GAIN</text>
<circle cx="687.1" cy="556.3" r="22" fill="#4E4E4E" stroke="#0A0A0A" stroke-width="1.6"/>
<circle cx="687.1" cy="556.3" r="14" fill="#333333" stroke="#0A0A0A" stroke-width="1.5"/>
<line x1="672.60" y1="556.30" x2="665.60" y2="556.30" stroke="#000" stroke-width="3.8"/>
<ellipse cx="680.60" cy="556.30" rx="1.5" ry="4.5" fill="#fff" transform="rotate(-90 680.60 556.30)"/>
<text x="667.00" y="529.3" font-size="9.2" font-weight="bold" fill="#111418" text-anchor="start" textLength="39.60" lengthAdjust="spacingAndGlyphs"  stroke="#111418" stroke-width="0.3">LOGBOOK</text>
<text x="631.80" y="537.75" font-size="9.2" font-weight="bold" fill="#111418" text-anchor="start" textLength="33.50" lengthAdjust="spacingAndGlyphs"  stroke="#111418" stroke-width="0.3">HISTORY</text>
<text x="645.80" y="548.8" font-size="9.2" font-weight="bold" fill="#111418" text-anchor="start" textLength="15.80" lengthAdjust="spacingAndGlyphs"  stroke="#111418" stroke-width="0.3">DBS</text>
<text x="643.70" y="560.2" font-size="9.2" font-weight="bold" fill="#111418" text-anchor="start" textLength="15.40" lengthAdjust="spacingAndGlyphs"  stroke="#111418" stroke-width="0.3">NAV</text>
<text x="707.90" y="539.4" font-size="9.2" font-weight="bold" fill="#111418" text-anchor="start" textLength="33.30" lengthAdjust="spacingAndGlyphs"  stroke="#111418" stroke-width="0.3">OS DATA</text>
<text x="714.00" y="549.4" font-size="9.2" font-weight="bold" fill="#111418" text-anchor="start" textLength="19.50" lengthAdjust="spacingAndGlyphs"  stroke="#111418" stroke-width="0.3">HELP</text>
<text x="716.00" y="560.2" font-size="9.2" font-weight="bold" fill="#111418" text-anchor="start" textLength="22.00" lengthAdjust="spacingAndGlyphs"  stroke="#111418" stroke-width="0.3">MENU</text>
<rect x="665.6" y="587.3" width="43.10" height="13.80" rx="6.90" fill="#4A4A4A" stroke="#141414" stroke-width="1.5"/>
<text x="673.40" y="597.9" font-size="9.3" font-weight="bold" fill="#FFFFFF" text-anchor="start" textLength="27.60" lengthAdjust="spacingAndGlyphs" >MODE</text>
<rect x="630.85" y="618" width="112.75" height="34.40" rx="17.20" fill="#333333" stroke="#0A0A0A" stroke-width="1.6"/>
<rect x="679.8" y="623.7" width="57.40" height="23.00" rx="11.50" fill="#4A4A4A" stroke="#0A0A0A" stroke-width="1.4"/>
<text x="684.50" y="639.3" font-size="13.4" font-weight="bold" fill="#FFFFFF" text-anchor="start" textLength="48.50" lengthAdjust="spacingAndGlyphs" >POWER</text>
<g transform="translate(262.10,166.90) rotate(90.194)"><path d="M0,0 Q-6.45,-3.12 -12.90,-7.10 L-11.10,-1.65 L-29.60,-1.65 L-29.60,1.65 L-11.10,1.65 L-12.90,7.10 Q-6.45,3.12 0,0 Z" fill="#0000E6" stroke="#fff" stroke-width="2.0" stroke-linejoin="miter" stroke-miterlimit="6"/><path d="M0,0 Q-6.45,-3.12 -12.90,-7.10 L-11.10,-1.65 L-29.60,-1.65 L-29.60,1.65 L-11.10,1.65 L-12.90,7.10 Q-6.45,3.12 0,0 Z" fill="#0000E6"/></g>
<g transform="translate(419.70,167.40) rotate(90.000)"><path d="M0,0 Q-6.45,-3.12 -12.90,-7.10 L-11.10,-1.65 L-30.10,-1.65 L-30.10,1.65 L-11.10,1.65 L-12.90,7.10 Q-6.45,3.12 0,0 Z" fill="#0000E6" stroke="#fff" stroke-width="2.0" stroke-linejoin="miter" stroke-miterlimit="6"/><path d="M0,0 Q-6.45,-3.12 -12.90,-7.10 L-11.10,-1.65 L-30.10,-1.65 L-30.10,1.65 L-11.10,1.65 L-12.90,7.10 Q-6.45,3.12 0,0 Z" fill="#0000E6"/></g>
<g transform="translate(589.10,175.80) rotate(90.148)"><path d="M0,0 Q-6.40,-3.21 -12.80,-7.30 L-11.00,-1.75 L-38.80,-1.75 L-38.80,1.75 L-11.00,1.75 L-12.80,7.30 Q-6.40,3.21 0,0 Z" fill="#0000E6" stroke="#fff" stroke-width="4.2" stroke-linejoin="miter" stroke-miterlimit="6"/><path d="M0,0 Q-6.40,-3.21 -12.80,-7.30 L-11.00,-1.75 L-38.80,-1.75 L-38.80,1.75 L-11.00,1.75 L-12.80,7.30 Q-6.40,3.21 0,0 Z" fill="#0000E6"/></g>
<g transform="translate(241.10,206.30) rotate(3.361)"><path d="M0,0 Q-6.40,-3.17 -12.80,-7.20 L-11.00,-1.65 L-59.70,-1.65 L-59.70,1.65 L-11.00,1.65 L-12.80,7.20 Q-6.40,3.17 0,0 Z" fill="#0000E6" stroke="#fff" stroke-width="2.0" stroke-linejoin="miter" stroke-miterlimit="6"/><path d="M0,0 Q-6.40,-3.17 -12.80,-7.20 L-11.00,-1.65 L-59.70,-1.65 L-59.70,1.65 L-11.00,1.65 L-12.80,7.20 Q-6.40,3.17 0,0 Z" fill="#0000E6"/></g>
<g transform="translate(241.00,223.50) rotate(0.000)"><path d="M0,0 Q-6.40,-3.17 -12.80,-7.20 L-11.00,-1.65 L-70.00,-1.65 L-70.00,1.65 L-11.00,1.65 L-12.80,7.20 Q-6.40,3.17 0,0 Z" fill="#0000E6" stroke="#fff" stroke-width="2.0" stroke-linejoin="miter" stroke-miterlimit="6"/><path d="M0,0 Q-6.40,-3.17 -12.80,-7.20 L-11.00,-1.65 L-70.00,-1.65 L-70.00,1.65 L-11.00,1.65 L-12.80,7.20 Q-6.40,3.17 0,0 Z" fill="#0000E6"/></g>
<g transform="translate(241.00,240.00) rotate(-5.845)"><path d="M0,0 Q-6.40,-3.17 -12.80,-7.20 L-11.00,-1.65 L-63.83,-1.65 L-63.83,1.65 L-11.00,1.65 L-12.80,7.20 Q-6.40,3.17 0,0 Z" fill="#0000E6" stroke="#fff" stroke-width="2.0" stroke-linejoin="miter" stroke-miterlimit="6"/><path d="M0,0 Q-6.40,-3.17 -12.80,-7.20 L-11.00,-1.65 L-63.83,-1.65 L-63.83,1.65 L-11.00,1.65 L-12.80,7.20 Q-6.40,3.17 0,0 Z" fill="#0000E6"/></g>
<g transform="translate(261.80,594.50) rotate(-0.189)"><path d="M0,0 Q-6.60,-3.43 -13.20,-7.80 L-11.40,-1.75 L-90.80,-1.75 L-90.80,1.75 L-11.40,1.75 L-13.20,7.80 Q-6.60,3.43 0,0 Z" fill="#0000E6" stroke="#fff" stroke-width="3.8" stroke-linejoin="miter" stroke-miterlimit="6"/><path d="M0,0 Q-6.60,-3.43 -13.20,-7.80 L-11.40,-1.75 L-90.80,-1.75 L-90.80,1.75 L-11.40,1.75 L-13.20,7.80 Q-6.60,3.43 0,0 Z" fill="#0000E6"/></g>
<g transform="translate(243.80,647.20) rotate(0.000)"><path d="M0,0 Q-6.20,-3.34 -12.40,-7.60 L-10.60,-1.75 L-72.80,-1.75 L-72.80,1.75 L-10.60,1.75 L-12.40,7.60 Q-6.20,3.34 0,0 Z" fill="#0000E6" stroke="#fff" stroke-width="2.0" stroke-linejoin="miter" stroke-miterlimit="6"/><path d="M0,0 Q-6.20,-3.34 -12.40,-7.60 L-10.60,-1.75 L-72.80,-1.75 L-72.80,1.75 L-10.60,1.75 L-12.40,7.60 Q-6.20,3.34 0,0 Z" fill="#0000E6"/></g>
<g transform="translate(460.50,652.75) rotate(-124.833)"><path d="M0,0 Q-6.25,-3.08 -12.50,-7.00 L-10.70,-1.75 L-75.11,-1.75 L-75.11,1.75 L-10.70,1.75 L-12.50,7.00 Q-6.25,3.08 0,0 Z" fill="#0000E6" stroke="#fff" stroke-width="2.6" stroke-linejoin="miter" stroke-miterlimit="6"/><path d="M0,0 Q-6.25,-3.08 -12.50,-7.00 L-10.70,-1.75 L-75.11,-1.75 L-75.11,1.75 L-10.70,1.75 L-12.50,7.00 Q-6.25,3.08 0,0 Z" fill="#0000E6"/></g>
<polygon points="234.15,671.22 234.19,673.16 234.32,674.99 234.54,676.71 234.87,678.33 235.29,679.84 235.82,681.24 236.46,682.54 237.22,683.74 238.09,684.82 239.08,685.78 240.20,686.61 241.42,687.31 242.75,687.87 244.18,688.28 245.70,688.56 247.30,688.70 247.30,688.70 257.28,688.70 267.26,688.70 277.24,688.70 287.23,688.70 297.21,688.70 307.19,688.70 317.17,688.70 327.15,688.70 337.13,688.70 347.11,688.70 357.09,688.70 367.07,688.70 377.06,688.70 387.04,688.70 397.02,688.70 407.00,688.70 406.92,688.70 408.43,688.74 409.85,688.84 411.18,689.00 412.42,689.21 413.58,689.49 414.66,689.82 415.65,690.21 416.56,690.65 417.39,691.15 418.15,691.71 418.84,692.33 419.45,693.02 420.00,693.77 420.48,694.60 420.89,695.50 421.22,696.48 422.78,696.12 422.53,694.97 422.18,693.86 421.73,692.81 421.17,691.81 420.51,690.87 419.76,689.99 418.90,689.19 417.94,688.45 416.89,687.78 415.75,687.19 414.52,686.66 413.20,686.21 411.80,685.83 410.31,685.52 408.74,685.28 407.08,685.10 407.00,685.10 397.02,685.10 387.04,685.10 377.06,685.10 367.07,685.10 357.09,685.10 347.11,685.10 337.13,685.10 327.15,685.10 317.17,685.10 307.19,685.10 297.21,685.10 287.23,685.10 277.24,685.10 267.26,685.10 257.28,685.10 247.30,685.10 247.30,685.10 245.99,685.12 244.78,685.03 243.66,684.83 242.62,684.53 241.65,684.12 240.75,683.61 239.91,682.97 239.13,682.21 238.42,681.32 237.76,680.29 237.18,679.12 236.67,677.81 236.24,676.36 235.89,674.77 235.63,673.04 235.45,671.18" fill="#0A0ADC"/><polygon points="610.15,671.18 609.97,673.04 609.71,674.77 609.36,676.36 608.93,677.81 608.42,679.12 607.84,680.29 607.18,681.32 606.47,682.21 605.69,682.97 604.85,683.61 603.95,684.12 602.98,684.53 601.94,684.83 600.82,685.03 599.61,685.12 598.30,685.10 598.30,685.10 588.22,685.10 578.14,685.10 568.06,685.10 557.97,685.10 547.89,685.10 537.81,685.10 527.73,685.10 517.65,685.10 507.57,685.10 497.49,685.10 487.41,685.10 477.32,685.10 467.24,685.10 457.16,685.10 447.08,685.10 437.00,685.10 436.92,685.10 435.26,685.28 433.69,685.52 432.20,685.83 430.80,686.21 429.48,686.66 428.25,687.19 427.11,687.78 426.06,688.45 425.10,689.19 424.24,689.99 423.49,690.87 422.83,691.81 422.27,692.81 421.82,693.86 421.47,694.97 421.22,696.12 422.78,696.48 423.11,695.50 423.52,694.60 424.00,693.77 424.55,693.02 425.16,692.33 425.85,691.71 426.61,691.15 427.44,690.65 428.35,690.21 429.34,689.82 430.42,689.49 431.58,689.21 432.82,689.00 434.15,688.84 435.57,688.74 437.08,688.70 437.00,688.70 447.08,688.70 457.16,688.70 467.24,688.70 477.32,688.70 487.41,688.70 497.49,688.70 507.57,688.70 517.65,688.70 527.73,688.70 537.81,688.70 547.89,688.70 557.97,688.70 568.06,688.70 578.14,688.70 588.22,688.70 598.30,688.70 598.30,688.70 599.90,688.56 601.42,688.28 602.85,687.87 604.18,687.31 605.40,686.61 606.52,685.78 607.51,684.82 608.38,683.74 609.14,682.54 609.78,681.24 610.31,679.84 610.73,678.33 611.06,676.71 611.28,674.99 611.41,673.16 611.45,671.22" fill="#0A0ADC"/>
<polygon points="612.25,671.22 612.29,673.16 612.42,674.99 612.64,676.71 612.97,678.33 613.39,679.84 613.92,681.24 614.56,682.54 615.32,683.74 616.19,684.82 617.18,685.78 618.30,686.61 619.52,687.31 620.85,687.87 622.28,688.28 623.80,688.56 625.40,688.70 625.40,688.70 628.36,688.70 631.33,688.70 634.29,688.70 637.25,688.70 640.21,688.70 643.17,688.70 646.14,688.70 649.10,688.70 652.06,688.70 655.02,688.70 657.99,688.70 660.95,688.70 663.91,688.70 666.87,688.70 669.84,688.70 672.80,688.70 672.72,688.70 674.23,688.74 675.65,688.84 676.98,689.00 678.22,689.21 679.38,689.49 680.46,689.82 681.45,690.21 682.36,690.65 683.19,691.15 683.95,691.71 684.64,692.33 685.25,693.02 685.80,693.77 686.28,694.60 686.69,695.50 687.02,696.48 688.58,696.12 688.33,694.97 687.98,693.86 687.53,692.81 686.97,691.81 686.31,690.87 685.56,689.99 684.70,689.19 683.74,688.45 682.69,687.78 681.55,687.19 680.32,686.66 679.00,686.21 677.60,685.83 676.11,685.52 674.54,685.28 672.88,685.10 672.80,685.10 669.84,685.10 666.87,685.10 663.91,685.10 660.95,685.10 657.99,685.10 655.02,685.10 652.06,685.10 649.10,685.10 646.14,685.10 643.17,685.10 640.21,685.10 637.25,685.10 634.29,685.10 631.33,685.10 628.36,685.10 625.40,685.10 625.40,685.10 624.09,685.12 622.88,685.03 621.76,684.83 620.72,684.53 619.75,684.12 618.85,683.61 618.01,682.97 617.23,682.21 616.52,681.32 615.86,680.29 615.28,679.12 614.77,677.81 614.34,676.36 613.99,674.77 613.73,673.04 613.55,671.18" fill="#0A0ADC"/><polygon points="762.35,671.18 762.17,673.04 761.91,674.77 761.56,676.36 761.13,677.81 760.62,679.12 760.04,680.29 759.38,681.32 758.67,682.21 757.89,682.97 757.05,683.61 756.15,684.12 755.18,684.53 754.14,684.83 753.02,685.03 751.81,685.12 750.50,685.10 750.50,685.10 747.52,685.10 744.54,685.10 741.56,685.10 738.57,685.10 735.59,685.10 732.61,685.10 729.63,685.10 726.65,685.10 723.67,685.10 720.69,685.10 717.71,685.10 714.72,685.10 711.74,685.10 708.76,685.10 705.78,685.10 702.80,685.10 702.72,685.10 701.06,685.28 699.49,685.52 698.00,685.83 696.60,686.21 695.28,686.66 694.05,687.19 692.91,687.78 691.86,688.45 690.90,689.19 690.04,689.99 689.29,690.87 688.63,691.81 688.07,692.81 687.62,693.86 687.27,694.97 687.02,696.12 688.58,696.48 688.91,695.50 689.32,694.60 689.80,693.77 690.35,693.02 690.96,692.33 691.65,691.71 692.41,691.15 693.24,690.65 694.15,690.21 695.14,689.82 696.22,689.49 697.38,689.21 698.62,689.00 699.95,688.84 701.37,688.74 702.88,688.70 702.80,688.70 705.78,688.70 708.76,688.70 711.74,688.70 714.72,688.70 717.71,688.70 720.69,688.70 723.67,688.70 726.65,688.70 729.63,688.70 732.61,688.70 735.59,688.70 738.57,688.70 741.56,688.70 744.54,688.70 747.52,688.70 750.50,688.70 750.50,688.70 752.10,688.56 753.62,688.28 755.05,687.87 756.38,687.31 757.60,686.61 758.72,685.78 759.71,684.82 760.58,683.74 761.34,682.54 761.98,681.24 762.51,679.84 762.93,678.33 763.26,676.71 763.48,674.99 763.61,673.16 763.65,671.22" fill="#0A0ADC"/>
<text x="247.75" y="113.5" font-size="14.5" font-weight="bold" fill="#000" text-anchor="start" textLength="29.15" lengthAdjust="spacingAndGlyphs"  stroke="#000" stroke-width="0.3">Auto</text>
<text x="245.60" y="131" font-size="14.5" font-weight="bold" fill="#000" text-anchor="start" textLength="33.15" lengthAdjust="spacingAndGlyphs"  stroke="#000" stroke-width="0.3">Mode</text>
<text x="401.00" y="113.75" font-size="14.5" font-weight="bold" fill="#000" text-anchor="start" textLength="37.10" lengthAdjust="spacingAndGlyphs"  stroke="#000" stroke-width="0.3">Alarm</text>
<text x="397.75" y="130.6" font-size="14.5" font-weight="bold" fill="#000" text-anchor="start" textLength="43.50" lengthAdjust="spacingAndGlyphs"  stroke="#000" stroke-width="0.3">Setting</text>
<text x="569.20" y="113.5" font-size="14.5" font-weight="bold" fill="#000" text-anchor="start" textLength="39.60" lengthAdjust="spacingAndGlyphs"  stroke="#000" stroke-width="0.3">Range</text>
<text x="572.20" y="130.5" font-size="14.5" font-weight="bold" fill="#000" text-anchor="start" textLength="33.30" lengthAdjust="spacingAndGlyphs"  stroke="#000" stroke-width="0.3">Scale</text>
<text x="91.50" y="206.9" font-size="14.2" font-weight="bold" fill="#000" text-anchor="start" textLength="87.00" lengthAdjust="spacingAndGlyphs"  stroke="#000" stroke-width="0.3">Range Setting</text>
<text x="91.50" y="227.5" font-size="14.2" font-weight="bold" fill="#000" text-anchor="start" textLength="76.00" lengthAdjust="spacingAndGlyphs"  stroke="#000" stroke-width="0.3">Gain Setting</text>
<text x="91.50" y="248.75" font-size="14.2" font-weight="bold" fill="#000" text-anchor="start" textLength="83.50" lengthAdjust="spacingAndGlyphs"  stroke="#000" stroke-width="0.3">Display Mode</text>
<text x="129.40" y="600.3" font-size="14.5" font-weight="bold" fill="#000" text-anchor="start" textLength="36.85" lengthAdjust="spacingAndGlyphs"  stroke="#000" stroke-width="0.3">Depth</text>
<text x="32.50" y="634.1" font-size="14.5" font-weight="bold" fill="#000" text-anchor="start" textLength="129.70" lengthAdjust="spacingAndGlyphs"  stroke="#000" stroke-width="0.3">Explanation of Depth</text>
<text x="32.50" y="653.1" font-size="14.5" font-weight="bold" fill="#000" text-anchor="start" textLength="136.90" lengthAdjust="spacingAndGlyphs"  stroke="#000" stroke-width="0.3">(Below Transducer, or</text>
<text x="32.50" y="672.6" font-size="14.5" font-weight="bold" fill="#000" text-anchor="start" textLength="93.75" lengthAdjust="spacingAndGlyphs"  stroke="#000" stroke-width="0.3">Below Surface)</text>
<text x="398.00" y="715.1" font-size="14.5" font-weight="bold" fill="#000" text-anchor="start" textLength="42.80" lengthAdjust="spacingAndGlyphs"  stroke="#000" stroke-width="0.3">Screen</text>
<text x="472.30" y="727.3" font-size="14.5" font-weight="bold" fill="#000" text-anchor="start" textLength="64.90" lengthAdjust="spacingAndGlyphs"  stroke="#000" stroke-width="0.3">Depth Unit</text>
<text x="645.00" y="715.1" font-size="14.5" font-weight="bold" fill="#000" text-anchor="start" textLength="85.10" lengthAdjust="spacingAndGlyphs"  stroke="#000" stroke-width="0.3">Control Panel</text>
<text x="35.20" y="802.65" font-size="14.7" font-weight="bold" fill="#000" text-anchor="start" textLength="290.80" lengthAdjust="spacingAndGlyphs"  stroke="#000" stroke-width="0.3">Echo Sounder Range vs. Pulse Length vs. PRF</text>
<rect x="28.8" y="817.9" width="303.6" height="121.9" fill="none" stroke="#111" stroke-width="1.7"/>
<line x1="28.8" y1="857.1" x2="332.4" y2="857.1" stroke="#111" stroke-width="1.7"/>
<line x1="117.1" y1="817.9" x2="117.1" y2="939.8" stroke="#111" stroke-width="1.7"/>
<line x1="205.8" y1="817.9" x2="205.8" y2="939.8" stroke="#111" stroke-width="1.7"/>
<text x="55.60" y="831" font-size="12" font-weight="bold" fill="#000" text-anchor="start" textLength="30.70" lengthAdjust="spacingAndGlyphs"  stroke="#000" stroke-width="0.3">Depth</text>
<text x="50.00" y="847" font-size="12" font-weight="bold" fill="#000" text-anchor="start" textLength="42.00" lengthAdjust="spacingAndGlyphs"  stroke="#000" stroke-width="0.3">(Meters)</text>
<text x="127.00" y="831" font-size="12" font-weight="bold" fill="#000" text-anchor="start" textLength="68.00" lengthAdjust="spacingAndGlyphs"  stroke="#000" stroke-width="0.3">Pulse Length</text>
<text x="149.50" y="847" font-size="12" font-weight="bold" fill="#000" text-anchor="start" textLength="23.00" lengthAdjust="spacingAndGlyphs"  stroke="#000" stroke-width="0.3">(ms)</text>
<text x="257.50" y="831" font-size="12" font-weight="bold" fill="#000" text-anchor="start" textLength="22.00" lengthAdjust="spacingAndGlyphs"  stroke="#000" stroke-width="0.3">PRF</text>
<text x="217.50" y="847" font-size="12" font-weight="bold" fill="#000" text-anchor="start" textLength="101.25" lengthAdjust="spacingAndGlyphs"  stroke="#000" stroke-width="0.3">(Pulses Per Minute)</text>
<text x="40.30" y="871.25" font-size="12" font-weight="bold" fill="#000" text-anchor="start" textLength="61.45" lengthAdjust="spacingAndGlyphs"  stroke="#000" stroke-width="0.3">5, 10 and 20</text>
<text x="40.30" y="887.4" font-size="12" font-weight="bold" fill="#000" text-anchor="start" textLength="12.20" lengthAdjust="spacingAndGlyphs"  stroke="#000" stroke-width="0.3">40</text>
<text x="40.30" y="903.2" font-size="12" font-weight="bold" fill="#000" text-anchor="start" textLength="17.70" lengthAdjust="spacingAndGlyphs"  stroke="#000" stroke-width="0.3">100</text>
<text x="40.30" y="919.2" font-size="12" font-weight="bold" fill="#000" text-anchor="start" textLength="17.70" lengthAdjust="spacingAndGlyphs"  stroke="#000" stroke-width="0.3">200</text>
<text x="40.30" y="935" font-size="12" font-weight="bold" fill="#000" text-anchor="start" textLength="61.45" lengthAdjust="spacingAndGlyphs"  stroke="#000" stroke-width="0.3">400 and 800</text>
<text x="150.75" y="871.25" font-size="12" font-weight="bold" fill="#000" text-anchor="start" textLength="21.25" lengthAdjust="spacingAndGlyphs"  stroke="#000" stroke-width="0.3">0.25</text>
<text x="150.75" y="887.4" font-size="12" font-weight="bold" fill="#000" text-anchor="start" textLength="21.25" lengthAdjust="spacingAndGlyphs"  stroke="#000" stroke-width="0.3">0.38</text>
<text x="150.75" y="903.2" font-size="12" font-weight="bold" fill="#000" text-anchor="start" textLength="21.25" lengthAdjust="spacingAndGlyphs"  stroke="#000" stroke-width="0.3">1.00</text>
<text x="150.75" y="919.2" font-size="12" font-weight="bold" fill="#000" text-anchor="start" textLength="21.25" lengthAdjust="spacingAndGlyphs"  stroke="#000" stroke-width="0.3">2.00</text>
<text x="150.75" y="935" font-size="12" font-weight="bold" fill="#000" text-anchor="start" textLength="21.25" lengthAdjust="spacingAndGlyphs"  stroke="#000" stroke-width="0.3">3.60</text>
<text x="259.55" y="871.25" font-size="12" font-weight="bold" fill="#000" text-anchor="start" textLength="17.50" lengthAdjust="spacingAndGlyphs"  stroke="#000" stroke-width="0.3">750</text>
<text x="259.55" y="887.4" font-size="12" font-weight="bold" fill="#000" text-anchor="start" textLength="17.50" lengthAdjust="spacingAndGlyphs"  stroke="#000" stroke-width="0.3">375</text>
<text x="259.55" y="903.2" font-size="12" font-weight="bold" fill="#000" text-anchor="start" textLength="17.50" lengthAdjust="spacingAndGlyphs"  stroke="#000" stroke-width="0.3">150</text>
<text x="262.30" y="919.2" font-size="12" font-weight="bold" fill="#000" text-anchor="start" textLength="12.00" lengthAdjust="spacingAndGlyphs"  stroke="#000" stroke-width="0.3">75</text>
<text x="262.30" y="935" font-size="12" font-weight="bold" fill="#000" text-anchor="start" textLength="12.00" lengthAdjust="spacingAndGlyphs"  stroke="#000" stroke-width="0.3">42</text>
<text x="502.00" y="802.65" font-size="14.7" font-weight="bold" fill="#000" text-anchor="start" textLength="235.50" lengthAdjust="spacingAndGlyphs"  stroke="#000" stroke-width="0.3">Sea Bed Consistency and Attenuation</text>
<rect x="467.8" y="817.9" width="303.8" height="121.9" fill="none" stroke="#111" stroke-width="1.7"/>
<line x1="467.8" y1="857.1" x2="771.6" y2="857.1" stroke="#111" stroke-width="1.7"/>
<line x1="613" y1="817.9" x2="613" y2="939.8" stroke="#111" stroke-width="1.7"/>
<text x="499.25" y="843" font-size="12" font-weight="bold" fill="#000" text-anchor="start" textLength="64.50" lengthAdjust="spacingAndGlyphs"  stroke="#000" stroke-width="0.3">Consistency</text>
<text x="653.75" y="843" font-size="12" font-weight="bold" fill="#000" text-anchor="start" textLength="85.00" lengthAdjust="spacingAndGlyphs"  stroke="#000" stroke-width="0.3">Attenuation (dB)</text>
<text x="500.25" y="871.25" font-size="12" font-weight="bold" fill="#000" text-anchor="start" textLength="47.25" lengthAdjust="spacingAndGlyphs"  stroke="#000" stroke-width="0.3">Soft mud</text>
<text x="690.50" y="871.25" font-size="12" font-weight="bold" fill="#000" text-anchor="start" textLength="12.00" lengthAdjust="spacingAndGlyphs"  stroke="#000" stroke-width="0.3">15</text>
<text x="500.25" y="887.4" font-size="12" font-weight="bold" fill="#000" text-anchor="start" textLength="56.75" lengthAdjust="spacingAndGlyphs"  stroke="#000" stroke-width="0.3">Mud / sand</text>
<text x="693.30" y="887.4" font-size="12" font-weight="bold" fill="#000" text-anchor="start" textLength="6.40" lengthAdjust="spacingAndGlyphs"  stroke="#000" stroke-width="0.3">9</text>
<text x="500.25" y="903.2" font-size="12" font-weight="bold" fill="#000" text-anchor="start" textLength="58.50" lengthAdjust="spacingAndGlyphs"  stroke="#000" stroke-width="0.3">Sand / mud</text>
<text x="693.30" y="903.2" font-size="12" font-weight="bold" fill="#000" text-anchor="start" textLength="6.40" lengthAdjust="spacingAndGlyphs"  stroke="#000" stroke-width="0.3">6</text>
<text x="500.25" y="919.2" font-size="12" font-weight="bold" fill="#000" text-anchor="start" textLength="26.00" lengthAdjust="spacingAndGlyphs"  stroke="#000" stroke-width="0.3">Sand</text>
<text x="693.30" y="919.2" font-size="12" font-weight="bold" fill="#000" text-anchor="start" textLength="6.40" lengthAdjust="spacingAndGlyphs"  stroke="#000" stroke-width="0.3">3</text>
<text x="500.25" y="935" font-size="12" font-weight="bold" fill="#000" text-anchor="start" textLength="61.75" lengthAdjust="spacingAndGlyphs"  stroke="#000" stroke-width="0.3">Stone / rock</text>
<text x="693.30" y="935" font-size="12" font-weight="bold" fill="#000" text-anchor="start" textLength="6.40" lengthAdjust="spacingAndGlyphs"  stroke="#000" stroke-width="0.3">1</text>
</svg>
</body></html>
